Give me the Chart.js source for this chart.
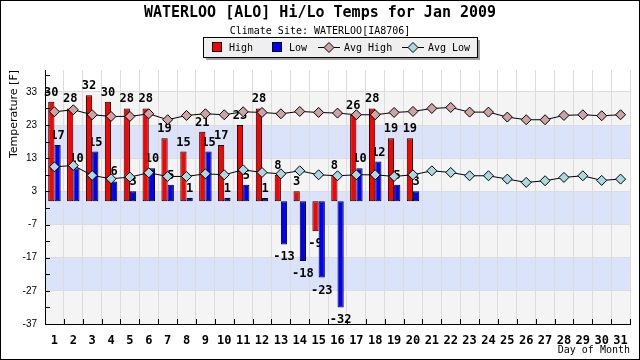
<!DOCTYPE html>
<html>
<head>
<meta charset="utf-8">
<script src="https://cdn.jsdelivr.net/npm/chart.js@4.4.0/dist/chart.umd.min.js"></script>
<style>
html, body { margin: 0; padding: 0; background: #fff; }
</style>
</head>
<body>
<canvas id="tempChart" width="640" height="360"></canvas>
<script>
const days = ['1','2','3','4','5','6','7','8','9','10','11','12','13','14','15','16',
              '17','18','19','20','21','22','23','24','25','26','27','28','29','30','31'];
const highs = [30, 28, 32, 30, 28, 28, 19, 15, 21, 17, 23, 28, 8, 3, -9, 8,
               26, 28, 19, 19, null, null, null, null, null, null, null, null, null, null, null];
const lows = [17, 10, 15, 6, 3, 10, 5, 1, 15, 1, 5, 1, -13, -18, -23, -32,
              10, 12, 5, 3, null, null, null, null, null, null, null, null, null, null, null];
const avgHigh = [27.0, 27.6, 26.1, 25.6, 25.6, 26.4, 24.6, 25.9, 26.4, 26.1, 27.0, 26.8, 26.4, 27.1, 26.8, 26.6,
                 26.1, 26.1, 26.8, 27.1, 28.0, 28.3, 26.9, 26.9, 25.4, 24.6, 24.6, 25.9, 26.1, 25.8, 26.1];
const avgLow = [10.4, 10.8, 7.8, 6.8, 7.3, 8.6, 7.5, 7.5, 8.3, 8.0, 9.5, 8.7, 8.3, 9.2, 8.0, 7.7,
                8.0, 8.0, 7.5, 8.0, 9.2, 8.7, 7.7, 7.7, 6.7, 5.7, 6.2, 7.2, 7.7, 6.3, 6.7];
const yMajor = [-37, -27, -17, -7, 3, 13, 23, 33];
const seriesNames = ['High', 'Low', 'Avg High', 'Avg Low'];

const MONO = '"DejaVu Sans Mono", "Liberation Mono", monospace';
const colors = {
    high: '#ff0000',
    low: '#0000ff',
    avgHigh: '#cda3a3',
    avgLow: '#a9d9e3',
    bandGray: '#f4f4f4',
    bandBlue: '#dbe3fa',
    grid: '#dcdcdc'
};

// every 5 degrees gets a tick mark, labels only on the majors
const yTicks = [];
yMajor.forEach(v => { yTicks.push(v); yTicks.push(v + 5); });

function drawDiamond(ctx, x, y, r, fill) {
    ctx.beginPath();
    ctx.moveTo(x, y - r);
    ctx.lineTo(x + r, y);
    ctx.lineTo(x, y + r);
    ctx.lineTo(x - r, y);
    ctx.closePath();
    ctx.fillStyle = fill;
    ctx.fill();
    ctx.strokeStyle = '#000';
    ctx.lineWidth = 1;
    ctx.stroke();
}

function drawBarLabels(chart, index) {
    const ctx = chart.ctx;
    const meta = chart.getDatasetMeta(index);
    const values = chart.data.datasets[index].data;
    ctx.save();
    ctx.font = 'bold 12px ' + MONO;
    ctx.fillStyle = '#000';
    ctx.textAlign = 'center';
    ctx.textBaseline = 'alphabetic';
    meta.data.forEach((bar, i) => {
        const v = values[i];
        if (v === null || v === undefined) return;
        const ty = v >= 0 ? bar.y - 6 : bar.y + 16;
        ctx.fillText(String(v), bar.x, ty);
    });
    ctx.restore();
}

const decorPlugin = {
    id: 'decor',
    beforeDraw(chart) {
        const { ctx, chartArea: a, scales: { y } } = chart;
        ctx.save();
        ctx.fillStyle = '#fff';
        ctx.fillRect(0, 0, chart.width, chart.height);
        for (let i = 0; i < yMajor.length - 1; i++) {
            const top = y.getPixelForValue(yMajor[i + 1]);
            const bottom = y.getPixelForValue(yMajor[i]);
            ctx.fillStyle = i % 2 === 0 ? colors.bandGray : colors.bandBlue;
            ctx.fillRect(a.left, top, a.right - a.left, bottom - top);
        }
        ctx.restore();
    },
    beforeDatasetsDraw(chart) {
        // high labels go under the bars, like the original
        drawBarLabels(chart, 0);
    },
    afterDatasetDraw(chart, args) {
        if (args.index === 1) drawBarLabels(chart, 1);
    },
    afterDraw(chart) {
        const { ctx, chartArea: a, scales: { y } } = chart;
        ctx.save();

        // inward tick marks
        ctx.strokeStyle = '#000';
        ctx.lineWidth = 1;
        ctx.beginPath();
        yTicks.forEach(v => {
            const py = Math.round(y.getPixelForValue(v)) + 0.5;
            ctx.moveTo(a.left, py);
            ctx.lineTo(a.left + 5, py);
        });
        const step = (a.right - a.left) / days.length;
        for (let i = 0; i <= days.length; i++) {
            const px = Math.round(a.left + i * step) + 0.5;
            ctx.moveTo(px, a.bottom);
            ctx.lineTo(px, a.bottom - 5);
        }
        ctx.stroke();

        // titles
        ctx.fillStyle = '#000';
        ctx.textAlign = 'center';
        ctx.textBaseline = 'middle';
        ctx.font = 'bold 15px ' + MONO;
        ctx.fillText('WATERLOO [ALO] Hi/Lo Temps for Jan 2009', 320, 13);
        ctx.font = '10px ' + MONO;
        ctx.fillText('Climate Site: WATERLOO[IA8706]', 320, 31);

        // legend box
        const lx = 203, ly = 37, lw = 274, lh = 20;
        ctx.fillStyle = '#a0a0a0';
        ctx.fillRect(lx + 3, ly + 3, lw, lh);
        ctx.fillStyle = '#efefef';
        ctx.fillRect(lx, ly, lw, lh);
        ctx.strokeStyle = '#000';
        ctx.strokeRect(lx + 0.5, ly + 0.5, lw, lh);

        const cy = ly + 10;
        ctx.fillStyle = colors.high;
        ctx.fillRect(212, cy - 5, 10, 10);
        ctx.strokeRect(212.5, cy - 4.5, 9, 9);
        ctx.fillStyle = colors.low;
        ctx.fillRect(272, cy - 5, 10, 10);
        ctx.strokeRect(272.5, cy - 4.5, 9, 9);

        ctx.beginPath();
        ctx.moveTo(318, cy + 0.5); ctx.lineTo(340, cy + 0.5);
        ctx.moveTo(402, cy + 0.5); ctx.lineTo(424, cy + 0.5);
        ctx.stroke();
        drawDiamond(ctx, 329, cy + 0.5, 5, colors.avgHigh);
        drawDiamond(ctx, 413, cy + 0.5, 5, colors.avgLow);

        ctx.fillStyle = '#000';
        ctx.textAlign = 'left';
        ctx.font = '10px ' + MONO;
        ctx.fillText(seriesNames[0], 229, cy + 1);
        ctx.fillText(seriesNames[1], 289, cy + 1);
        ctx.fillText(seriesNames[2], 344, cy + 1);
        ctx.fillText(seriesNames[3], 428, cy + 1);

        // outer frame
        ctx.strokeStyle = '#000';
        ctx.strokeRect(0.5, 0.5, chart.width - 1, chart.height - 1);
        ctx.restore();
    }
};

const ctx = document.getElementById('tempChart').getContext('2d');
new Chart(ctx, {
    type: 'bar',
    data: {
        labels: days,
        datasets: [
            {
                type: 'bar',
                label: seriesNames[0],
                data: highs,
                backgroundColor: colors.high,
                borderColor: '#000',
                borderWidth: 1,
                borderSkipped: false,
                categoryPercentage: 0.66,
                barPercentage: 1.0,
                order: 2
            },
            {
                type: 'bar',
                label: seriesNames[1],
                data: lows,
                backgroundColor: colors.low,
                borderColor: '#000',
                borderWidth: 1,
                borderSkipped: false,
                categoryPercentage: 0.66,
                barPercentage: 1.0,
                order: 2
            },
            {
                type: 'line',
                label: seriesNames[2],
                data: avgHigh,
                borderColor: '#000',
                borderWidth: 1,
                tension: 0,
                pointStyle: 'rectRot',
                pointRadius: 5,
                pointBackgroundColor: colors.avgHigh,
                pointBorderColor: '#000',
                pointBorderWidth: 1,
                order: 1
            },
            {
                type: 'line',
                label: seriesNames[3],
                data: avgLow,
                borderColor: '#000',
                borderWidth: 1,
                tension: 0,
                pointStyle: 'rectRot',
                pointRadius: 5,
                pointBackgroundColor: colors.avgLow,
                pointBorderColor: '#000',
                pointBorderWidth: 1,
                order: 1
            }
        ]
    },
    options: {
        responsive: false,
        devicePixelRatio: 1,
        animation: false,
        layout: {
            padding: { top: 70, right: 10, left: 0, bottom: 0 }
        },
        scales: {
            x: {
                grid: {
                    offset: true,
                    color: colors.grid,
                    drawTicks: false
                },
                border: { color: '#000' },
                ticks: {
                    color: '#000',
                    padding: 10,
                    maxRotation: 0,
                    autoSkip: false,
                    font: { family: MONO, size: 12, weight: 'bold' }
                },
                title: {
                    display: true,
                    text: 'Day of Month',
                    align: 'end',
                    color: '#000',
                    font: { family: MONO, size: 10 },
                    padding: { top: 0, bottom: 4 }
                },
                afterFit(scale) { scale.height = 36; }
            },
            y: {
                min: -37,
                max: 39.6,
                grid: {
                    color: c => (c.tick && yMajor.includes(c.tick.value)) ? colors.grid : 'rgba(0,0,0,0)',
                    drawTicks: false
                },
                border: { color: '#000' },
                afterBuildTicks(scale) {
                    scale.ticks = yTicks.map(v => ({ value: v }));
                },
                ticks: {
                    color: '#000',
                    padding: 8,
                    autoSkip: false,
                    font: { family: '"Liberation Sans", Arial, sans-serif', size: 10 },
                    callback: v => yMajor.includes(v) ? String(v) : ''
                },
                title: {
                    display: true,
                    text: 'Temperature [F]',
                    align: 'end',
                    color: '#000',
                    font: { family: '"DejaVu Sans", sans-serif', size: 11 },
                    padding: { top: 8, bottom: 0 }
                },
                afterFit(scale) { scale.width = 45; }
            }
        },
        plugins: {
            legend: { display: false },
            title: { display: false },
            tooltip: { enabled: false }
        }
    },
    plugins: [decorPlugin]
});
</script>
</body>
</html>
